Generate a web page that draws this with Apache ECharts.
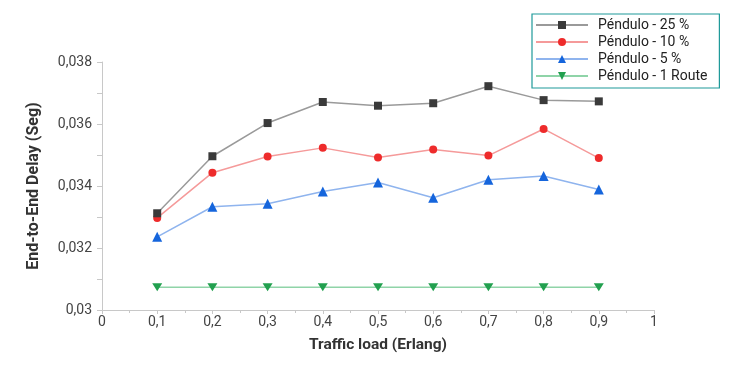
<!DOCTYPE html>
<html><head><meta charset="utf-8">
<script src="https://cdn.jsdelivr.net/npm/echarts@6/dist/echarts.min.js"></script>
<style>html,body{margin:0;padding:0;background:#fff}#c{width:736px;height:366px}</style>
</head><body><div id="c"></div>
<script>
const xValues = [0.1, 0.2, 0.3, 0.4, 0.5, 0.6, 0.7, 0.8, 0.9];
const seriesNames = ['Péndulo - 25 %', 'Péndulo - 10 %', 'Péndulo - 5 %', 'Péndulo - 1 Route'];
const p25 = [0.03312, 0.03496, 0.03603, 0.03671, 0.03659, 0.03667, 0.03722, 0.03677, 0.03673];
const p10 = [0.03297, 0.03443, 0.03495, 0.03523, 0.03492, 0.03518, 0.03498, 0.03584, 0.03490];
const p5 = [0.03236, 0.03333, 0.03343, 0.03382, 0.03411, 0.03362, 0.03420, 0.03432, 0.03389];
const p1 = [0.03073, 0.03073, 0.03073, 0.03073, 0.03073, 0.03073, 0.03073, 0.03073, 0.03073];

const fmt = v => String(+v.toFixed(4)).replace('.', ',');
const font = 'Roboto, "Noto Sans", sans-serif';
const pair = arr => xValues.map((x, i) => [x, arr[i]]);

const styles = [
  {data: p25, line: '#9a9a9a', mark: '#3a3a3a', symbol: 'rect', size: 8},
  {data: p10, line: '#f59a9a', mark: '#ee2b2b', symbol: 'circle', size: 8},
  {data: p5, line: '#8fb4ee', mark: '#1565dc', symbol: 'triangle', size: 10},
  {data: p1, line: '#8fd4a8', mark: '#22a04f', symbol: 'path://M0,0 L10,0 L5,9 Z', size: [10, 8]}
];

const chart = echarts.init(document.getElementById('c'), null, {renderer: 'canvas'});
chart.setOption({
  animation: false,
  textStyle: {fontFamily: font},
  grid: {left: 102, right: 82, top: 62, bottom: 56, containLabel: false},
  legend: {
    orient: 'vertical', left: 532, top: 14, width: 188,
    padding: [4, 12, 5, 3],
    borderColor: '#1e9a9a', borderWidth: 1.2,
    itemWidth: 52, itemHeight: 10, itemGap: 3,
    textStyle: {fontSize: 14, color: '#222', fontFamily: font, padding: [0, 0, 0, 5]},
    data: seriesNames
  },
  xAxis: {
    type: 'value', min: 0, max: 1, interval: 0.1,
    name: 'Traffic load (Erlang)', nameLocation: 'middle', nameGap: 27,
    nameTextStyle: {fontSize: 15.5, fontWeight: 'bold', color: '#333', fontFamily: font},
    axisLine: {show: true, lineStyle: {color: '#c8c8c8'}},
    axisTick: {show: true, length: 4, lineStyle: {color: '#c8c8c8'}},
    minorTick: {show: true, splitNumber: 2, length: 3, lineStyle: {color: '#c8c8c8'}},
    splitLine: {show: false},
    axisLabel: {fontSize: 14, color: '#444', margin: 5, formatter: fmt}
  },
  yAxis: {
    type: 'value', min: 0.03, max: 0.038, interval: 0.002,
    name: 'End-to-End Delay (Seg)', nameLocation: 'middle', nameGap: 60,
    nameTextStyle: {fontSize: 16, fontWeight: 'bold', color: '#333', fontFamily: font},
    axisLine: {show: true, lineStyle: {color: '#c8c8c8'}},
    axisTick: {show: true, length: 5, lineStyle: {color: '#c8c8c8'}},
    minorTick: {show: true, splitNumber: 2, length: 5, lineStyle: {color: '#c8c8c8'}},
    splitLine: {show: false},
    axisLabel: {fontSize: 14, color: '#444', margin: 10, formatter: fmt}
  },
  series: styles.map((s, i) => ({
    name: seriesNames[i], type: 'line', data: pair(s.data),
    symbol: s.symbol, symbolSize: s.size, showSymbol: true,
    lineStyle: {color: s.line, width: 1.5},
    itemStyle: {color: s.mark},
    z: 10 - i
  }))
});
</script></body></html>
